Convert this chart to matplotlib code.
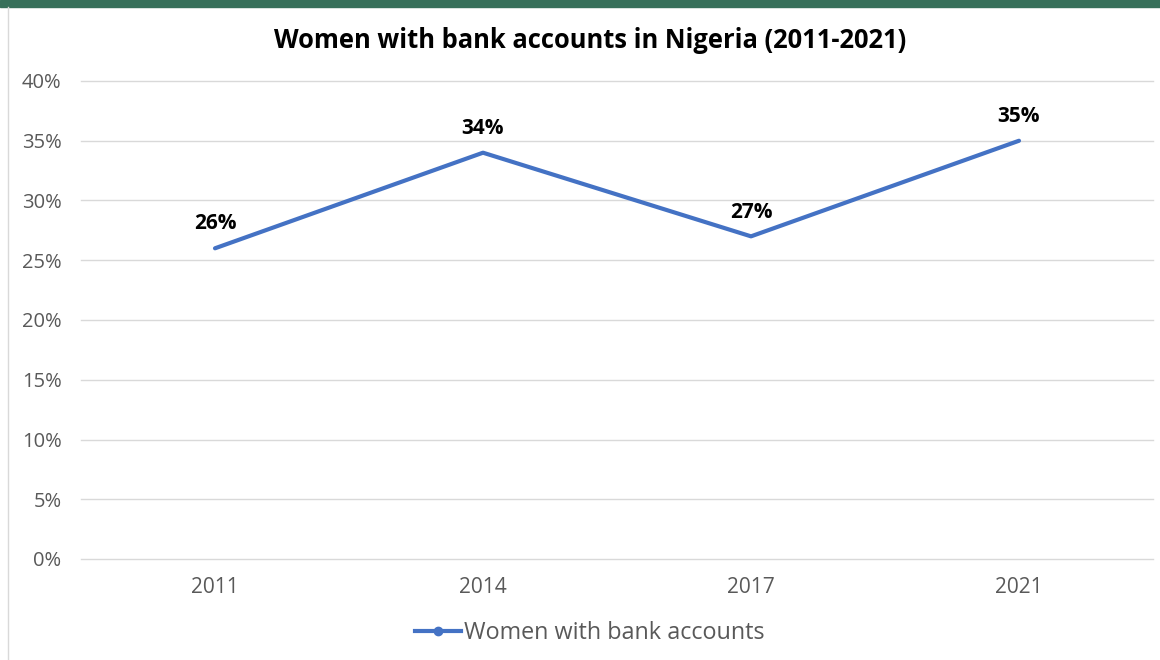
import matplotlib.pyplot as plt
from matplotlib.lines import Line2D
from matplotlib.patches import Rectangle

years = ["2011", "2014", "2017", "2021"]
share = [26, 34, 27, 35]
y_ticks = [0, 5, 10, 15, 20, 25, 30, 35, 40]

plt.rcParams['font.family'] = ['Open Sans', 'DejaVu Sans']
blue = "#4472C4"
grey = "#595959"

fig = plt.figure(figsize=(11.6, 6.6), dpi=100)
ax = fig.add_axes([81 / 1160, 1 - 559 / 660, 1072 / 1160, 478 / 660])

x = range(len(years))
ax.plot(x, share, color=blue, linewidth=3, solid_capstyle='round')
for xi, v in zip(x, share):
    ax.annotate(f"{v}%", (xi, v), xytext=(0, 17.5), textcoords="offset points",
                ha="center", va="center", fontsize=15, fontweight="bold", color="black")

ax.set_xlim(-0.5, len(years) - 0.5)
ax.set_ylim(0, 40)
ax.set_xticks(list(x))
ax.set_xticklabels(years)
ax.set_yticks(y_ticks)
ax.set_yticklabels([f"{t}%" for t in y_ticks])
ax.tick_params(axis="both", length=0, colors=grey)
ax.tick_params(axis="x", pad=13, labelsize=15)
ax.tick_params(axis="y", pad=14, labelsize=14.5)
ax.grid(axis="y", color="#D9D9D9", linewidth=1)
for gl in ax.get_ygridlines():
    gl.set_clip_on(False)
ax.set_axisbelow(True)
for s in ax.spines.values():
    s.set_visible(False)

fig.text(0.509, 1 - 41 / 660, "Women with bank accounts in Nigeria (2011-2021)",
         ha="center", va="center", fontsize=18.4, fontweight="bold", color="black")

# top banner and left border
fig.patches.append(Rectangle((0, 1 - 7 / 660), 1, 7 / 660, transform=fig.transFigure,
                             color="#37705A", zorder=0))
fig.lines.append(Line2D([8 / 1160, 8 / 1160], [0, 1 - 7 / 660], transform=fig.transFigure,
                        color="#D9D9D9", linewidth=1))

handle = Line2D([], [], color=blue, linewidth=3, marker="o", markersize=6)
fig.legend([handle], ["Women with bank accounts"], loc="center",
           bbox_to_anchor=(0.508, 1 - 633 / 660), frameon=False, fontsize=16.8,
           labelcolor=grey, handlelength=2.0, handletextpad=0.1)

fig.savefig("out.png", dpi=100)
